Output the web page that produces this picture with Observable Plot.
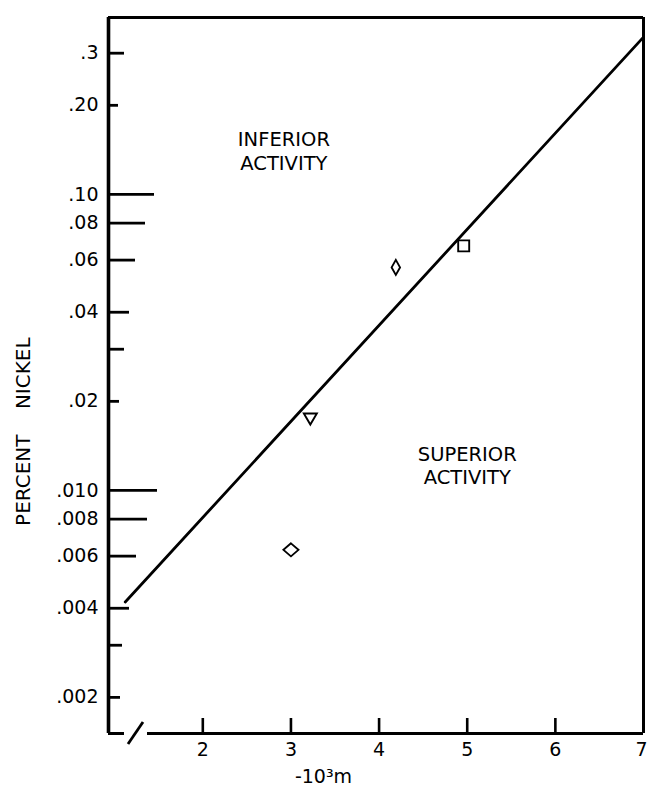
<!DOCTYPE html>
<html><head><meta charset="utf-8">
<script src="https://cdn.jsdelivr.net/npm/d3@7"></script>
<script src="https://cdn.jsdelivr.net/npm/@observablehq/plot@0.6"></script>
<style>
body{margin:0;background:#fff;}
#chart{width:647px;height:797px;}
</style></head><body><div id="chart"></div>
<script>
// ---- data ----
const yTickValues = [0.3, 0.2, 0.1, 0.08, 0.06, 0.04, 0.03, 0.02, 0.01, 0.008, 0.006, 0.004, 0.003, 0.002];
const yTickLabels = [".3", ".20", ".10", ".08", ".06", ".04", "", ".02", ".010", ".008", ".006", ".004", "", ".002"];
const xTickValues = [2, 3, 4, 5, 6, 7];
const xTickLabels = ["2", "3", "4", "5", "6", "7"];
const pointX = [3.0, 3.22, 4.19, 4.96];
const pointY = [0.0063, 0.0175, 0.0567, 0.067];
const pointSymbol = ["diamond", "triangleDown", "narrowDiamond", "square"];
const lineX = [1.12, 7.0];
const lineY = [0.0042, 0.34];
const regionLabels = ["INFERIOR\nACTIVITY", "SUPERIOR\nACTIVITY"];
const regionX = [2.92, 5.0];
const regionY = [0.141, 0.0122];
const xLabel = "-10³m";
const yLabel = "PERCENT    NICKEL";
const xDomain = [0.93, 7];
const yDomain = [0.00151, 0.396];

// ---- style ----
const yTickLen = [16, 10, 46, 37, 27, 21, 16, 11, 49, 39, 28, 21, 14, 12];
const W = 647, H = 797, mL = 108, mR = 4, mT = 17, mB = 64;
const kx = (xDomain[1] - xDomain[0]) / (W - mL - mR);
const px2x = p => xDomain[0] + (p - mL) * kx;
const pxPerDecade = (H - mT - mB) / Math.log10(yDomain[1] / yDomain[0]);
const yUp = px => yDomain[0] * Math.pow(10, px / pxPerDecade);

const shapes = {
  diamond: {draw(c) { c.moveTo(0, -6.5); c.lineTo(7.5, 0); c.lineTo(0, 6.5); c.lineTo(-7.5, 0); c.closePath(); }},
  triangleDown: {draw(c) { c.moveTo(-6.5, -5); c.lineTo(6.5, -5); c.lineTo(0, 6); c.closePath(); }},
  narrowDiamond: {draw(c) { c.moveTo(0, -7.5); c.lineTo(4.2, 0); c.lineTo(0, 7.5); c.lineTo(-4.2, 0); c.closePath(); }},
  square: {draw(c) { c.moveTo(-5.5, -5.5); c.lineTo(5.5, -5.5); c.lineTo(5.5, 5.5); c.lineTo(-5.5, 5.5); c.closePath(); }}
};

const points = pointX.map((x, i) => ({x, y: pointY[i], s: pointSymbol[i]}));
const linePts = lineX.map((x, i) => ({x, y: lineY[i]}));
const nX = xTickValues.length;

const plot = Plot.plot({
  width: W, height: H,
  marginLeft: mL, marginRight: mR, marginTop: mT, marginBottom: mB,
  x: {domain: xDomain, axis: null},
  y: {type: "log", domain: yDomain, axis: null},
  style: {fontFamily: "DejaVu Sans", fontSize: "19px", color: "black", background: "white", overflow: "visible"},
  marks: [
    // frame
    Plot.ruleX([xDomain[0]], {strokeWidth: 3.6}),
    Plot.ruleX([xDomain[1]], {strokeWidth: 3}),
    Plot.ruleY([yDomain[1]], {strokeWidth: 3}),
    Plot.ruleY([yDomain[0]], {x1: () => xDomain[0], x2: () => px2x(124), strokeWidth: 3}),
    Plot.ruleY([yDomain[0]], {x1: () => px2x(147), x2: () => xDomain[1], strokeWidth: 3}),
    // y ticks
    Plot.ruleY(yTickValues, {y: d => d, x1: () => xDomain[0], x2: (d, i) => px2x(mL + yTickLen[i]), strokeWidth: 2.8}),
    Plot.text(yTickValues, {y: d => d, text: (d, i) => yTickLabels[i], frameAnchor: "left", textAnchor: "end", dx: -10}),
    // x ticks
    Plot.ruleX(xTickValues.slice(0, -1), {x: d => d, y1: () => yDomain[0], y2: () => yUp(15), strokeWidth: 2.6}),
    Plot.text(xTickValues.slice(0, -1), {x: d => d, text: (d, i) => xTickLabels[i], frameAnchor: "bottom", dy: 22}),
    Plot.text(xTickValues.slice(-1), {x: d => d, text: () => xTickLabels[nX - 1], frameAnchor: "bottom", dy: 22, textAnchor: "end", dx: 4}),
    Plot.text([xLabel], {x: () => px2x(323), text: d => d, frameAnchor: "bottom", dy: 49}),
    Plot.text([yLabel], {y: () => 0.0158, text: d => d, frameAnchor: "left", textAnchor: "middle", dx: -85, rotate: -90, fontSize: 20}),
    // region labels
    Plot.text(regionLabels, {x: (d, i) => regionX[i], y: (d, i) => regionY[i], text: d => d, lineHeight: 1.22, fontSize: 19.5}),
    // regression line
    Plot.line(linePts, {x: "x", y: "y", strokeWidth: 2.8}),
    // points
    ...pointSymbol.map((s, i) => Plot.dot([points[i]], {x: "x", y: "y", symbol: shapes[s], r: 7, stroke: "black", fill: "white", strokeWidth: 1.9}))
  ]
});

// axis break slash
d3.select(plot).append("line")
  .attr("x1", mL + 20).attr("y1", H - mB + 11)
  .attr("x2", mL + 35).attr("y2", H - mB - 11)
  .attr("stroke", "black").attr("stroke-width", 2.8);

document.getElementById("chart").appendChild(plot);
</script>
</body></html>
